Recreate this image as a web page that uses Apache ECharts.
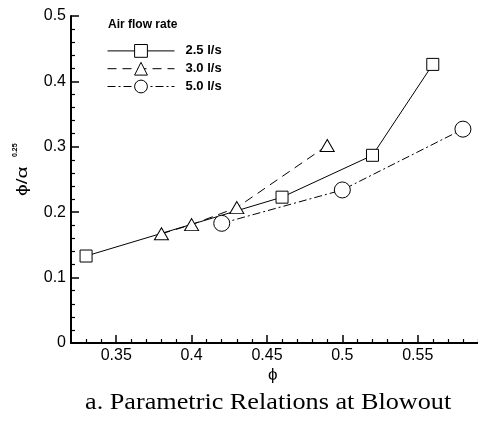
<!DOCTYPE html>
<html>
<head>
<meta charset="utf-8">
<script src="https://cdn.jsdelivr.net/npm/echarts@6/dist/echarts.min.js"></script>
<style>
  html, body { margin: 0; padding: 0; background: #fff; }
  #chart { width: 478px; height: 421px; }
</style>
</head>
<body>
<div id="chart"></div>
<script>
// Equivalence ratio (phi) and phi/alpha^0.25 at blowout, per air flow rate
const seriesNames = ['2.5 l/s', '3.0 l/s', '5.0 l/s'];
const phi25 = [0.33, 0.46, 0.52, 0.56];
const val25 = [0.133, 0.223, 0.287, 0.426];
const phi30 = [0.38, 0.40, 0.43, 0.49];
const val30 = [0.167, 0.181, 0.207, 0.302];
const phi50 = [0.42, 0.50, 0.58];
const val50 = [0.183, 0.234, 0.327];

const xMajorTicks = [0.35, 0.40, 0.45, 0.50, 0.55];
const xMinorTicks = [0.33, 0.34, 0.36, 0.37, 0.38, 0.39, 0.41, 0.42, 0.43, 0.44,
                     0.46, 0.47, 0.48, 0.49, 0.51, 0.52, 0.53, 0.54, 0.56, 0.57, 0.58, 0.59];

const pairs = (xs, ys) => xs.map((x, i) => [x, ys[i]]);

const chart = echarts.init(document.getElementById('chart'), null, { renderer: 'canvas' });

const sans = "'Liberation Sans', Arial, sans-serif";
const serif = "'Liberation Serif', 'Times New Roman', serif";
const axisFont = { fontFamily: sans, fontSize: 16, color: '#000' };
const markerStyle = { color: '#fff', borderColor: '#000', borderWidth: 1 };

chart.setOption({
  animation: false,
  backgroundColor: '#fff',
  grid: { left: 71, right: 0, top: 16, bottom: 78, containLabel: false },
  xAxis: [
    {
      type: 'value', min: 0.32, max: 0.59, position: 'bottom',
      axisLine: { show: true, lineStyle: { color: '#000', width: 2 } },
      axisTick: { show: true, inside: true, length: 8, customValues: xMajorTicks,
                  lineStyle: { color: '#000', width: 1.5 } },
      axisLabel: Object.assign({ customValues: xMajorTicks, margin: 5,
                  formatter: v => String(+v.toFixed(2)) }, axisFont),
      splitLine: { show: false }
    },
    {
      type: 'value', min: 0.32, max: 0.59, position: 'bottom',
      axisLine: { show: false },
      axisTick: { show: true, inside: true, length: 4, customValues: xMinorTicks,
                  lineStyle: { color: '#000', width: 1.2 } },
      axisLabel: { show: false },
      splitLine: { show: false }
    }
  ],
  yAxis: {
    type: 'value', min: 0, max: 0.5, interval: 0.1,
    axisLine: { show: true, lineStyle: { color: '#000', width: 2 } },
    axisTick: { show: true, inside: true, length: 8, lineStyle: { color: '#000', width: 1.5 } },
    minorTick: { show: true, splitNumber: 5, length: 4, lineStyle: { color: '#000', width: 1.2 } },
    axisLabel: Object.assign({ margin: 5, formatter: v => String(+v.toFixed(1)) }, axisFont),
    splitLine: { show: false },
    minorSplitLine: { show: false }
  },
  legend: {
    left: 102, top: 39, orient: 'vertical',
    itemWidth: 67, itemHeight: 16, itemGap: 4,
    lineStyle: { width: 1 },
    itemStyle: { borderWidth: 1 },
    textStyle: { fontFamily: sans, fontSize: 13, fontWeight: 'bold', color: '#000',
                 padding: [0, 0, 0, 6] },
    data: seriesNames
  },
  graphic: [
    {
      type: 'text', left: 108, top: 19,
      style: { text: 'Air flow rate', fontFamily: sans, fontSize: 12, fontWeight: 'bold', fill: '#000' }
    },
    {
      // y-axis title: phi / alpha with a small 0.25 exponent
      type: 'text', x: 15, y: 196, rotation: Math.PI / 2, scaleX: 1.4,
      style: { text: '\u03d5/\u03b1', fontFamily: sans, fontSize: 15, fill: '#000' }
    },
    {
      type: 'text', x: 12, y: 157, rotation: Math.PI / 2,
      style: { text: '0.25', fontFamily: sans, fontSize: 7, fontWeight: 'bold', fill: '#000' }
    },
    {
      type: 'text', left: 268, top: 367,
      style: { text: '\u03d5', fontFamily: sans, fontSize: 17, fill: '#000' }
    },
    {
      type: 'text', x: 85, y: 391, scaleX: 1.14,
      style: { text: 'a. Parametric Relations at Blowout',
               fontFamily: serif, fontSize: 23, fill: '#000' }
    }
  ],
  series: [
    {
      name: seriesNames[0], type: 'line', data: pairs(phi25, val25),
      symbol: 'rect', symbolSize: 12, showAllSymbol: true,
      lineStyle: { color: '#000', width: 1, type: 'solid' },
      itemStyle: markerStyle
    },
    {
      name: seriesNames[1], type: 'line', data: pairs(phi30, val30),
      symbol: 'triangle', symbolSize: [14, 12], showAllSymbol: true,
      lineStyle: { color: '#000', width: 1, type: [9, 6] },
      itemStyle: markerStyle
    },
    {
      name: seriesNames[2], type: 'line', data: pairs(phi50, val50),
      symbol: 'circle', symbolSize: 16, showAllSymbol: true,
      lineStyle: { color: '#000', width: 1, type: [8, 3, 2, 3] },
      itemStyle: markerStyle
    }
  ]
});
</script>
</body>
</html>
